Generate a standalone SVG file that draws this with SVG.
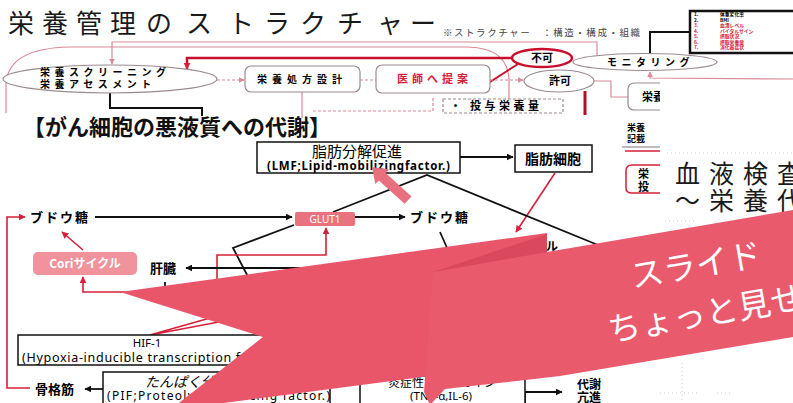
<svg xmlns="http://www.w3.org/2000/svg" width="793" height="403" viewBox="0 0 793 403">
<defs>
<marker id="ab" viewBox="0 0 10 10" refX="9" refY="5" markerWidth="7" markerHeight="7" orient="auto-start-reverse" markerUnits="userSpaceOnUse"><path d="M0,0 L10,5 L0,10 Z" fill="#111"/></marker>
<marker id="ar" viewBox="0 0 10 10" refX="9" refY="5" markerWidth="7" markerHeight="7" orient="auto-start-reverse" markerUnits="userSpaceOnUse"><path d="M0,0 L10,5 L0,10 Z" fill="#d6203a"/></marker>
<marker id="ap" viewBox="0 0 10 10" refX="9" refY="5" markerWidth="6" markerHeight="6" orient="auto-start-reverse" markerUnits="userSpaceOnUse"><path d="M0,0 L10,5 L0,10 Z" fill="#d98a98"/></marker>
</defs>
<style>
.jp{font-family:"Noto Sans CJK JP","Noto Sans",sans-serif}
.lat{font-family:"Noto Sans","Noto Sans CJK JP",sans-serif}
.b{font-weight:bold}
.pk{fill:none;stroke:#d98a98;stroke-width:1.2}
.pkd{fill:none;stroke:#d98a98;stroke-width:1.2;stroke-dasharray:3 2}
.gy{fill:#fff;stroke:#9a8a8e;stroke-width:1.2}
.bk{fill:none;stroke:#111;stroke-width:1.8}
.rd{fill:none;stroke:#d6203a;stroke-width:1.6}
.box{fill:#fff;stroke:#111;stroke-width:1.5}
.t13{font-size:13px}
</style>
<rect width="793" height="403" fill="#fff"/>

<!-- ===== top slide ===== -->
<text class="jp" font-size="26" fill="#1a1a1a" x="8 42 76 110 146 186 228 264 300 337 377 410" y="33">栄養管理のストラクチャー</text>
<text class="jp" font-size="9.5" fill="#444" x="443" y="36" textLength="197">※ストラクチャー　：構造・構成・組織</text>

<g id="connectors-top">
<path class="pk" d="M6,113 L6,84 Q8,48 70,47 L468,47 Q508,48 509,80 L509,113"/>
<path class="pk" d="M597,56 L597,42 L112,42 L112,64" marker-end="url(#ap)"/>
<path d="M512,58 L187,58 L187,69" fill="none" stroke="#c8102e" stroke-width="2.5" marker-end="url(#ar)"/>
<path d="M490,82 L518,64" fill="none" stroke="#c8102e" stroke-width="2"/>
<path class="pkd" d="M217,80 L244,80" marker-end="url(#ap)"/>
<path class="pkd" d="M360,80 L376,80"/>
<path class="pkd" d="M490,80 L523,80" marker-end="url(#ap)"/>
<path class="pk" d="M302,92 L302,118"/>
<path class="pkd" d="M313,111 L433,111 L433,96"/>
<path d="M585,91 L585,115" fill="none" stroke="#b0102a" stroke-width="3"/>
<path d="M690,32 L650,32 L650,54" fill="none" stroke="#111" stroke-width="2"/>
<path class="pk" d="M594,81 L611,81 L611,97 L628,97"/>
<path class="pk" d="M793,79 L650,78 L650,72" marker-end="url(#ap)"/>
<path d="M110,93 L110,108 L202,108 L202,116" fill="none" stroke="#111" stroke-width="2"/>
</g>

<g id="n-screening">
<ellipse class="gy" cx="110" cy="79" rx="107" ry="14"/>
<text class="jp b" font-size="10" letter-spacing="4.5" x="40" y="76">栄養スクリーニング</text>
<text class="jp b" font-size="10" letter-spacing="4.5" x="40" y="88">栄養アセスメント</text>
</g>
<g id="n-prescription">
<rect class="gy" x="245" y="66" width="115" height="26" rx="6"/>
<text class="jp b" font-size="10" letter-spacing="5" x="257" y="83">栄養処方設計</text>
</g>
<g id="n-doctor">
<rect class="gy" x="376" y="65" width="114" height="28" rx="6"/>
<text class="jp b" font-size="11" letter-spacing="4" fill="#d6203a" x="397" y="83">医師へ提案</text>
</g>
<g id="n-fuka">
<ellipse cx="542" cy="58" rx="30" ry="9" fill="#fff" stroke="#c8102e" stroke-width="2.5"/>
<text class="jp b" font-size="11" text-anchor="middle" x="542" y="62">不可</text>
</g>
<g id="n-kyoka">
<ellipse class="gy" cx="559" cy="81" rx="35" ry="11"/>
<text class="jp b" font-size="11" text-anchor="middle" x="560" y="85">許可</text>
</g>
<g id="n-monitoring">
<ellipse class="gy" cx="645" cy="62" rx="72" ry="8.5"/>
<text class="jp b" font-size="10" letter-spacing="4.5" x="607" y="66">モニタリング</text>
</g>
<g id="n-dose">
<rect x="443" y="99" width="120" height="14" fill="#fff" stroke="#9a8a8e" stroke-width="1.2" stroke-dasharray="3 2"/>
<text class="jp b" font-size="11" x="450" y="110">・</text>
<text class="jp b" font-size="11" letter-spacing="3.5" x="470" y="110">投与栄養量</text>
</g>
<g id="n-list">
<rect x="690" y="11" width="110" height="42" fill="#fff" stroke="#111" stroke-width="2.5"/>
<g class="jp b" font-size="4.8">
<text x="694" y="16">1.</text><text x="720" y="16">体重変化率</text>
<text x="694" y="21.5">2.</text><text x="720" y="21.5">BMI</text>
<g fill="#d6203a">
<text x="694" y="27">3.</text><text x="720" y="27">血清レベル</text>
<text x="694" y="32.5">4.</text><text x="720" y="32.5">バイタルサイン</text>
<text x="694" y="38">5.</text><text x="720" y="38">摂取状況</text>
<text x="694" y="43.5">6.</text><text x="720" y="43.5">摂取栄養量</text>
<text x="694" y="49">7.</text><text x="720" y="49">消化器症状</text>
</g>
</g>
</g>
<g id="n-eiyo">
<rect class="gy" x="628" y="83" width="80" height="27" rx="6"/>
<text class="jp b" font-size="11" x="642" y="101">栄養</text>
</g>
<g id="n-record">
<text class="jp b" font-size="9" x="627" y="131">栄養</text>
<text class="jp b" font-size="9" x="627" y="142">記載</text>
<path d="M622,147 L662,147" stroke="#777" stroke-width="1.2"/>
<path d="M625,151 L662,151" stroke="#d6203a" stroke-width="1.5"/>
<path d="M662,165 L632,165 Q626,165 626,171 L626,188 Q626,193 632,193 L662,193" fill="none" stroke="#d6203a" stroke-width="1.5"/>
<text class="jp b" font-size="11" x="638" y="178">栄</text>
<text class="jp b" font-size="11" x="638" y="191">投</text>
<path d="M700,123 L732,123" stroke="#e07080" stroke-width="1"/>
</g>

<!-- right slide -->
<g id="slide-right">
<rect x="660" y="82" width="133" height="180" fill="#fff"/>
<path d="M667,153 L793,153 M665,221 L697,221" stroke="#ccc" stroke-width="1" stroke-dasharray="1 3"/>
<text class="jp" font-size="25" letter-spacing="9" fill="#1a1a1a" x="675" y="183">血液検査</text>
<text class="jp" font-size="25" letter-spacing="9" fill="#1a1a1a" x="675" y="210">～栄養代</text>
<path d="M682,363 L682,403 M660,393 L700,393 M717,393 L733,393" stroke="#ccc" stroke-width="1" stroke-dasharray="1 3"/>
</g>

<!-- ===== bottom slide ===== -->
<text class="jp b" font-size="22" fill="#111" x="23" y="135">【がん細胞の悪液質への代謝】</text>

<g id="connectors-bottom">
<path class="bk" d="M460,157 L513,157" marker-end="url(#ab)"/>
<path class="rd" d="M555,173 L516,232" marker-end="url(#ar)"/>
<path class="bk" d="M95,217 L292,217" marker-end="url(#ab)"/>
<path class="bk" d="M355,217 L405,217" marker-end="url(#ab)"/>
<path class="bk" d="M333,212 L427,175 L598,245"/>
<path class="bk" d="M294,225 L233,248 L256,292"/>
<path class="bk" d="M440,232 L448,250"/>
<path class="rd" d="M217,290 L217,255 L326,255 L326,228" marker-end="url(#ar)"/>
<path class="bk" d="M300,268 L186,268" marker-end="url(#ab)"/>
<path class="bk" d="M165,282 L165,290"/>
<path class="rd" d="M83,250 L62,232" marker-end="url(#ar)"/>
<path class="rd" d="M125,292 L83,292 L83,277" marker-end="url(#ar)"/>
<path class="rd" d="M30,388 L7,388 L7,217 L25,217" marker-end="url(#ar)"/>
<path class="rd" d="M150,335 L224,321 M150,335 L210,318"/>
<path class="bk" d="M103,389 L85,389" marker-end="url(#ab)"/>
<path class="bk" d="M525,403 L525,392 L562,392" marker-end="url(#ab)"/>
</g>

<g id="n-lipolysis">
<rect class="box" x="257" y="142" width="203" height="31"/>
<text class="jp" font-size="15" text-anchor="middle" x="357" y="157">脂肪分解促進</text>
<text class="lat b" font-size="11.5" x="267" y="170" textLength="183">(LMF;Lipid-mobilizingfactor.)</text>
</g>
<g id="n-adipocyte">
<rect class="box" x="515" y="145" width="77" height="27"/>
<text class="jp b" font-size="14" text-anchor="middle" x="553" y="164">脂肪細胞</text>
</g>
<path id="block-arrow" d="M411.5,196.4 L385.7,173.1 L389.1,169.4 L372,167 L375.3,184 L378.8,180.4 L404.6,203.7 Z" fill="#e8707e"/>
<g id="n-glut1">
<rect x="295" y="212" width="60" height="14" rx="2" fill="#e8737f"/>
<text class="lat" font-size="10" fill="#fff" text-anchor="middle" x="325" y="223">GLUT1</text>
</g>
<g id="n-glucose-l"><text class="jp b t13" letter-spacing="2" x="30" y="222">ブドウ糖</text></g>
<g id="n-glucose-r"><text class="jp b t13" letter-spacing="2" x="410" y="222">ブドウ糖</text></g>
<g id="n-liver"><text class="jp b t13" x="150" y="273">肝臓</text></g>
<g id="n-cori">
<rect x="33" y="252" width="104" height="23" rx="5" fill="#f0939c"/>
<text class="jp b" font-size="12" fill="#fff" text-anchor="middle" x="85" y="268">Coriサイクル</text>
</g>
<g id="n-hidden"><text class="jp b" font-size="12" x="546" y="251">ル</text></g>
<g id="n-hif">
<rect class="box" x="18" y="335" width="300" height="30"/>
<text class="lat" font-size="11.5" text-anchor="middle" x="147" y="347">HIF-1</text>
<text class="lat" font-size="12.5" x="22" y="362" textLength="269">(Hypoxia-inducible transcription factor-1)</text>
</g>
<g id="n-muscle"><text class="jp b t13" x="35" y="394">骨格筋</text></g>
<g id="n-protein">
<rect class="box" x="103" y="372" width="227" height="40"/>
<text class="jp" font-size="14" x="145" y="387" font-style="italic">たんぱく分解誘導因子</text>
<text class="lat" font-size="12" x="107" y="400" textLength="223">(PIF;Proteolysis-inducing factor.)</text>
</g>
<g id="n-cytokine">
<rect class="box" x="360" y="376" width="165" height="40"/>
<text class="jp" font-size="12" text-anchor="middle" x="442" y="387">炎症性サイトカイン</text>
<text class="lat" font-size="11.5" text-anchor="middle" x="441" y="400">(TNF-α,IL-6)</text>
</g>
<g id="n-metab">
<text class="jp b" font-size="12" x="577" y="389">代謝</text>
<text class="jp b" font-size="12" x="577" y="402">亢進</text>
</g>

<!-- ===== ribbon overlay ===== -->
<g id="ribbon">
<path d="M120,292 L547,233 L547,300 L430,376 L170,410 L263,337 Z" fill="#e9566a"/>
<path d="M433,272 L547,252 L793,210 L793,337 L560,376 L445,389 L430,405 L424,392 Z" fill="#ea5a6d"/>
<path d="M433,272 L547,234 L547,252 Z" fill="#d9485c"/>
<text class="jp" font-size="33" fill="#fff" x="633" y="288" transform="rotate(-9.8 633 288)">スライド</text>
<text class="jp" font-size="33" fill="#fff" x="610" y="342" transform="rotate(-9.8 610 342)">ちょっと見せ</text>
</g>
</svg>
